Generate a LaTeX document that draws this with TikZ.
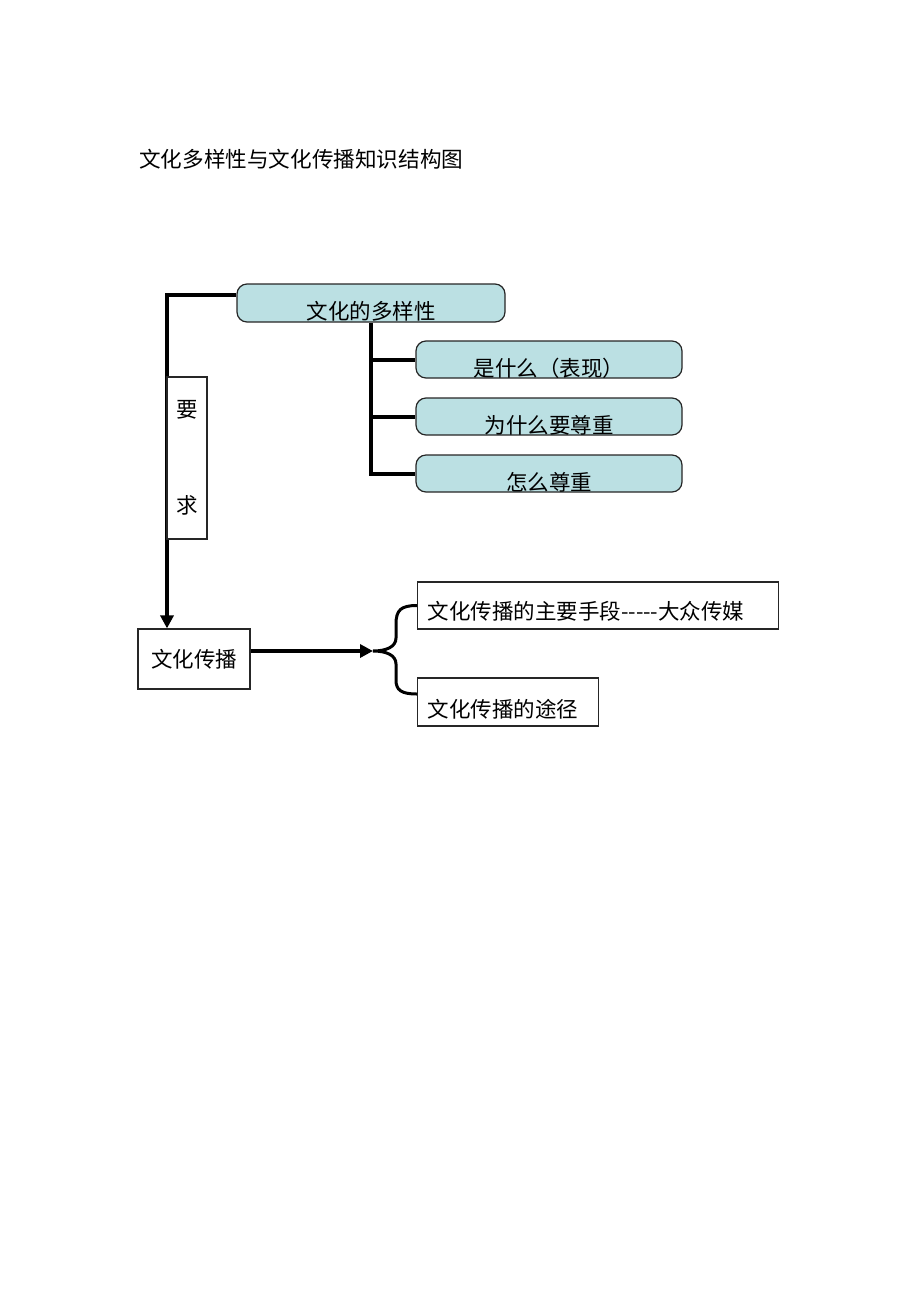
\documentclass[tikz,border=0pt]{standalone}
\usepackage{fontspec}
\setmainfont{Noto Sans CJK SC}
\usetikzlibrary{arrows.meta,calc}
\definecolor{paleteal}{RGB}{187,224,227}
\begin{document}
\begin{tikzpicture}[x=1pt,y=-1pt,
	bigtext/.style={font=\fontsize{21.5}{26}\selectfont},
	tealbox/.style={draw=black!85,line width=1.2pt,fill=paleteal,rounded corners=10pt,inner sep=0pt,bigtext},
	plainbox/.style={draw=black!85,line width=1.2pt,fill=white,inner sep=0pt,bigtext},
	thickline/.style={line width=4pt},
	bigtip/.style={-{Triangle[length=13pt,width=13pt]}}]
	\useasboundingbox (0,0) rectangle (920,1302);
	\node[anchor=base west,inner sep=0pt,font=\fontsize{21.6}{26}\selectfont] (title) at (139,167) {文化多样性与文化传播知识结构图};
	% diversity part
	\node[tealbox,minimum width=268pt,text height=35pt,text depth=3pt] (mainbox) at (371,303) {文化的多样性};
	\node[tealbox,minimum width=266pt,text height=35pt,text depth=2pt] (sub1) at (549,359.5) {是什么（表现）};
	\node[tealbox,minimum width=266pt,text height=35pt,text depth=2pt] (sub2) at (549,416.5) {为什么要尊重};
	\node[tealbox,minimum width=266pt,text height=35pt,text depth=2pt] (sub3) at (549,473.5) {怎么尊重};
	% spread part
	\node[plainbox,minimum width=112pt,minimum height=60pt] (spread) at (194,659) {文化传播};
	\node[plainbox,anchor=west,inner xsep=10pt,text width=341pt,align=left,text height=37pt,text depth=10pt] (way1) at (417,605.5) {文化传播的主要手段-{}-{}-{}-{}-大众传媒};
	\node[plainbox,anchor=west,inner xsep=10pt,text width=161pt,align=left,text height=39pt,text depth=9pt] (way2) at (417,702) {文化传播的途径};
	\coordinate (corner) at (167,294.5);
	\coordinate (brtip) at (373,651);
	\draw[thickline,bigtip] (mainbox.west |- corner) -- (corner) -- (corner |- spread.north);
	\draw[thickline] (mainbox.south) -- (mainbox.south |- sub3.west) -- (sub3.west);
	\draw[thickline] (mainbox.south |- sub1.west) -- (sub1.west);
	\draw[thickline] (mainbox.south |- sub2.west) -- (sub2.west);
	\draw[thickline,bigtip] (spread.east |- brtip) -- (brtip);
	\draw[line width=3pt] (way1.west) .. controls (401,605.5) and (396,610) .. (396,624) -- (396,638)
		.. controls (396,647) and (386,651) .. (brtip) .. controls (386,651) and (396,655) .. (396,664)
		-- (396,680) .. controls (396,690) and (401,694) .. ($(way2.west)+(0,-8)$);
	\node[plainbox,minimum width=40pt,minimum height=162pt,align=center] (req) at (187,458) {要\\[70pt]求};
\end{tikzpicture}
\end{document}
